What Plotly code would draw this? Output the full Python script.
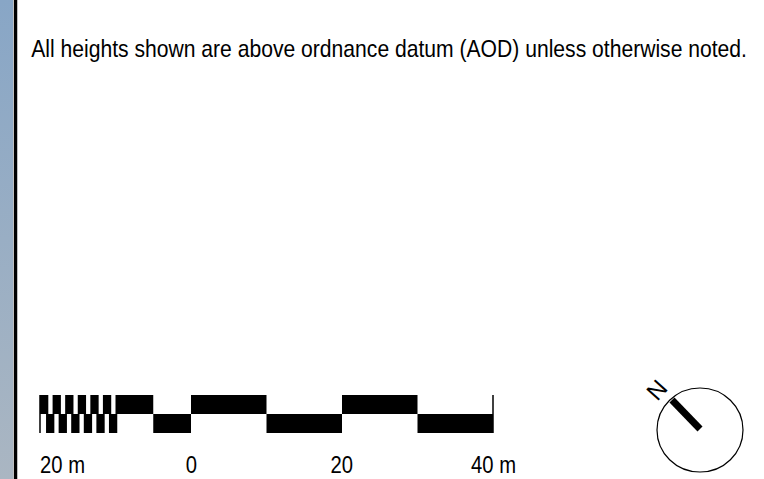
import plotly.graph_objects as go

# ---- data (scale bar in metres) ----
top_small_starts = [-20.0, -18.333, -16.667, -15.0, -13.333, -11.667]
bottom_small_starts = [-19.2, -17.533, -15.867, -14.2, -12.533, -10.867]
small_width = 1.1
top_big = [(-10, -5), (0, 10), (20, 30)]
bottom_big = [(-5, 0), (10, 20), (30, 40)]
tick_values = [-20, 0, 20, 40]
tick_labels = ["20 m", "0", "20", "40 m"]
note_text = "All heights shown are above ordnance datum (AOD) unless otherwise noted."
north_label = "N"

W, H = 764, 479
px_per_m = 453 / 60.0
x0m = -20 - 40 / px_per_m
x1m = x0m + W / px_per_m
py_per_u = 19.0
y_top = 433 / py_per_u
y_bot = -(H - 433) / py_per_u
FONT = "Liberation Sans, Arial, sans-serif"

fig = go.Figure()

# gradient strip on the pixel axes
fig.add_trace(go.Scatter(
    x=[0, 13, 13, 0, 0], y=[0, 0, H, H, 0], xaxis="x2", yaxis="y2",
    mode="lines", line=dict(width=0), fill="toself",
    fillgradient=dict(type="vertical", colorscale=[[0, "#aab6c2"], [1, "#88a6c6"]]),
    hoverinfo="skip", showlegend=False))

shapes = []
def rect(a, b, y0, y1):
    shapes.append(dict(type="rect", xref="x", yref="y", x0=a, x1=b, y0=y0, y1=y1,
                       fillcolor="black", line=dict(width=0), layer="above"))

for s in top_small_starts:
    rect(s, s + small_width, 1, 2)
for s in bottom_small_starts:
    rect(s, s + small_width, 0, 1)
for a, b in top_big:
    rect(a, b, 1, 2)
for a, b in bottom_big:
    rect(a, b, 0, 1)
for xv in (tick_values[0], tick_values[-1]):
    shapes.append(dict(type="line", xref="x", yref="y", x0=xv, x1=xv, y0=0, y1=2,
                       line=dict(color="black", width=1.5)))

shapes.append(dict(type="line", xref="x2", yref="y2", x0=15.5, x1=15.5, y0=0, y1=H,
                   line=dict(color="black", width=3.5)))
shapes.append(dict(type="circle", xref="x2", yref="y2", x0=657, x1=743, y0=388, y1=472,
                   line=dict(color="black", width=1.2)))
shapes.append(dict(type="line", xref="x2", yref="y2", x0=672, y0=400, x1=700, y1=429,
                   line=dict(color="black", width=7)))

annotations = []
for v, t in zip(tick_values, tick_labels):
    first = v == tick_values[0]
    annotations.append(dict(x=v, y=-1.68, xref="x", yref="y", text=t, showarrow=False,
                            xanchor="left" if first else "center", xshift=-2 if first else 0,
                            yanchor="middle",
                            font=dict(family=FONT, size=23, color="black")))
annotations.append(dict(x=29, y=48, xref="x2", yref="y2", text=note_text, showarrow=False,
                        xanchor="left", yanchor="middle",
                        font=dict(family=FONT, size=24, color="black")))
annotations.append(dict(x=656, y=390, xref="x2", yref="y2", text=north_label, showarrow=False,
                        xanchor="center", yanchor="middle", textangle=-48,
                        font=dict(family=FONT, size=24, color="black")))

fig.update_layout(
    width=W, height=H, margin=dict(l=0, r=0, t=0, b=0),
    paper_bgcolor="white", plot_bgcolor="white", showlegend=False,
    xaxis=dict(range=[x0m, x1m], visible=False, fixedrange=True),
    yaxis=dict(range=[y_bot, y_top], visible=False, fixedrange=True),
    xaxis2=dict(range=[0, W], visible=False, overlaying="x", fixedrange=True),
    yaxis2=dict(range=[H, 0], visible=False, overlaying="y", fixedrange=True),
    shapes=shapes, annotations=annotations,
)

# condensed look: squeeze annotation text horizontally (text stays real SVG text)
post = """
document.body.style.margin='0';document.body.style.overflow='hidden';
var gd=document.getElementById('{plot_id}');
var anns=gd.querySelectorAll('g.annotation');
var anchors=['left','center','center','center','left','center'];
anns.forEach(function(g,i){
  var t=g.querySelector('text.annotation-text');
  if(!t) return;
  if(i===anns.length-1) return;
  t.style.transformBox='fill-box';
  t.style.transformOrigin=(anchors[i]||'center')+' center';
  t.style.transform='scaleX(0.88)';
});
"""
fig.write_html("out.html", config={"displayModeBar": False}, post_script=post)
